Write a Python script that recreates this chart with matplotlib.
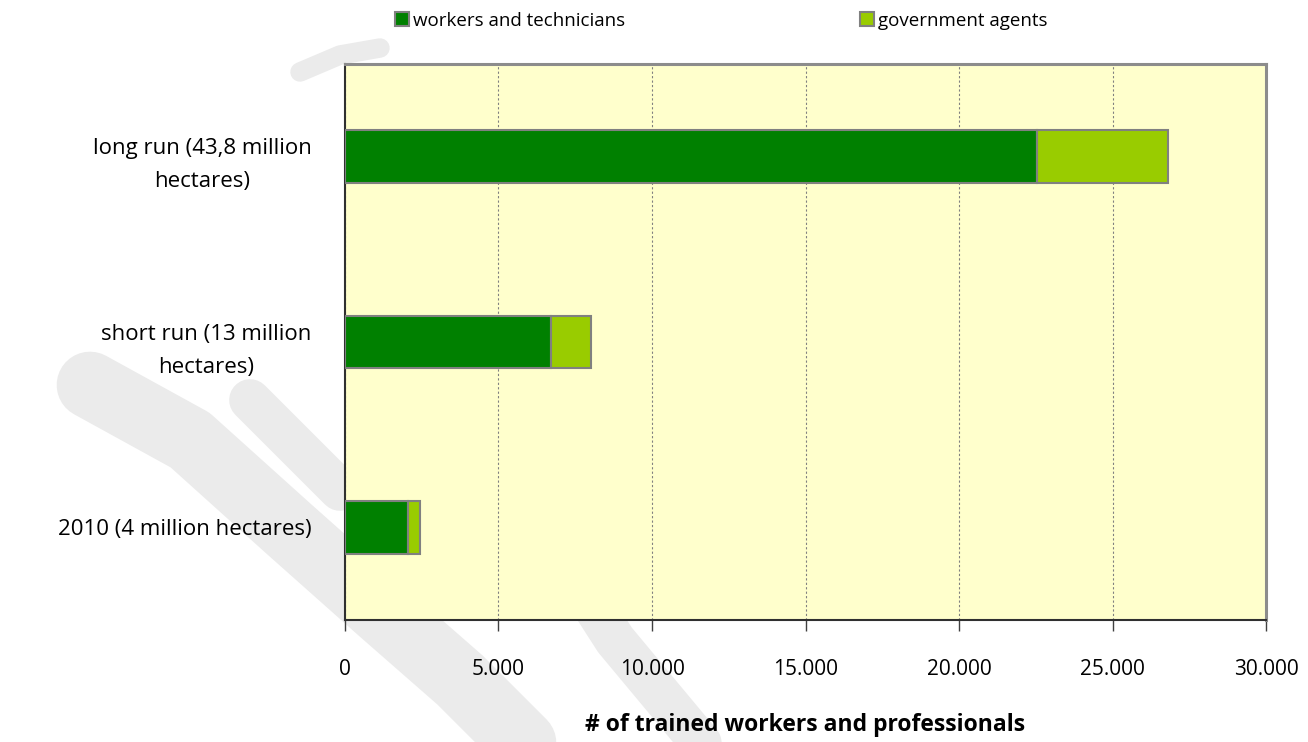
import matplotlib.pyplot as plt
from matplotlib.lines import Line2D
import numpy as np

plt.rcParams['font.family'] = ['Open Sans', 'DejaVu Sans']

categories = ["2010 (4 million hectares)",
              "short run (13 million\nhectares)",
              "long run (43,8 million\nhectares)"]
workers = [2050, 6700, 22550]
government = [380, 1300, 4250]
series_names = ["workers and technicians", "government agents"]
xticks = [0, 5000, 10000, 15000, 20000, 25000, 30000]
xtick_labels = ["0", "5.000", "10.000", "15.000", "20.000", "25.000", "30.000"]

C_DARK = "#008000"
C_LIGHT = "#99CC00"
EDGE = "#808080"

W, H = 1308, 742
fig = plt.figure(figsize=(W / 100, H / 100), dpi=100)

# faint watermark strokes behind the plot (pixel coords, top-left origin)
def stroke(pts, lw, color="#ebebeb"):
    xs = [p[0] / W for p in pts]
    ys = [1 - p[1] / H for p in pts]
    fig.add_artist(Line2D(xs, ys, transform=fig.transFigure, lw=lw,
                          color=color, solid_capstyle="round",
                          solid_joinstyle="round", zorder=0))

stroke([(90, 385), (190, 440), (290, 530), (380, 610), (460, 680), (540, 760)], 48)
stroke([(570, 570), (615, 640), (665, 700), (715, 760)], 30)
stroke([(250, 400), (300, 450), (340, 490)], 30)
stroke([(300, 72), (340, 55), (380, 48)], 14)

ax = fig.add_axes([345 / W, 1 - 620 / H, (1266 - 345) / W, (620 - 64) / H])
ax.set_facecolor("#FFFFCC")
ax.set_zorder(1)

y = np.arange(len(categories))
h = 0.285
ax.barh(y, workers, height=h, color=C_DARK, edgecolor=EDGE, linewidth=1.5,
        label=series_names[0], zorder=3)
ax.barh(y, government, left=workers, height=h, color=C_LIGHT, edgecolor=EDGE,
        linewidth=1.5, label=series_names[1], zorder=3)

ax.set_xlim(0, 30000)
ax.set_ylim(-0.5, 2.5)
ax.set_xticks(xticks)
ax.set_xticklabels(xtick_labels, fontsize=15)
ax.set_yticks(y)
ax.set_yticklabels(categories, fontsize=16, multialignment="center",
                   linespacing=1.75)
ax.tick_params(axis="y", length=0, pad=24)
ax.tick_params(axis="x", length=8, width=1, color="#404040", pad=20)

ax.grid(axis="x", linestyle=(0, (2, 2)), color="#808080", linewidth=0.8, zorder=1)
ax.set_axisbelow(True)

for side in ["left", "bottom"]:
    ax.spines[side].set_color("#303030")
    ax.spines[side].set_linewidth(1.5)
for side in ["top", "right"]:
    ax.spines[side].set_color("#8c8c8c")
    ax.spines[side].set_linewidth(2.2)

ax.set_xlabel("# of trained workers and professionals", fontsize=16.5,
              fontweight="bold", labelpad=24)

leg = fig.legend(loc="upper left", bbox_to_anchor=(387 / W, 1 - 4 / H), ncol=2,
                 frameon=False, fontsize=13.5, handlelength=0.75, handleheight=0.75,
                 handletextpad=0.25, columnspacing=12.5, borderaxespad=0)

fig.savefig("out.png", dpi=100)
